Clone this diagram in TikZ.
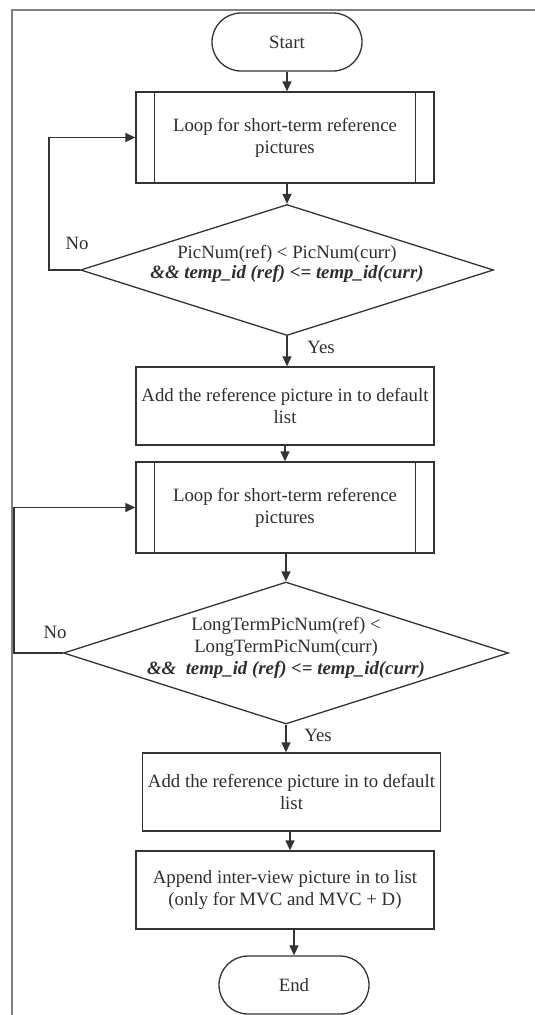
\documentclass[tikz,border=0pt]{standalone}
\usepackage{fontspec}
\setmainfont{Liberation Serif}
\usetikzlibrary{arrows.meta,shapes.geometric}
\definecolor{linec}{HTML}{333333}
\definecolor{framec}{HTML}{808080}
\definecolor{textc}{HTML}{2E2E2E}
\begin{document}
\begin{tikzpicture}[x=1pt,y=-1pt,
  font=\fontsize{18.8}{22}\selectfont, text=textc,
  line/.style={draw=linec, line width=1.3pt},
  arr/.style={line, -{Triangle[length=10pt,width=9pt]}},
  term/.style={line, rectangle, rounded corners=29pt, minimum width=150pt, minimum height=58pt, inner sep=0pt},
  proc/.style={line, rectangle, minimum width=298pt, minimum height=78pt, align=center, inner sep=0pt},
  subproc/.style={proc, minimum height=91pt},
  decision/.style={line, diamond, inner sep=0pt},
  lbl/.style={align=center, inner sep=0pt},
]
\useasboundingbox (0,0) rectangle (535,1015);

% page frame (only top and left edges are visible)
\draw[draw=framec, line width=1.8pt] (535,10) -- (12,10) -- (12,1015);

% nodes
\node[term] (start) at (287,42) {Start};
\node[subproc] (loop1) at (285,137.5) {Loop for short-term reference\\pictures};
\node[decision, minimum width=413pt, minimum height=131pt] (dec1) at (287,270) {};
\node[lbl] (dec1txt) at (287,264) {PicNum(ref) < PicNum(curr)\\[-2pt]\textbf{\textit{\&\& temp\_id (ref) <= temp\_id(curr)}}};
\node[proc] (add1) at (285,406) {Add the reference picture in to default\\list};
\node[subproc] (loop2) at (285,507.5) {Loop for short-term reference\\pictures};
\node[decision, minimum width=445pt, minimum height=142pt] (dec2) at (286,653) {};
\node[lbl] (dec2txt) at (286,648) {LongTermPicNum(ref) <\\LongTermPicNum(curr)\\\textbf{\textit{\&\&\ \ temp\_id (ref) <= temp\_id(curr)}}};
\node[proc] (add2) at (291.5,792) {Add the reference picture in to default\\list};
\node[proc] (app) at (285,890) {Append inter-view picture in to list\\(only for MVC and MVC + D)};
\node[term] (end) at (294,985) {End};

% inner bars of the predefined-process boxes
\foreach \n in {loop1,loop2}{
  \draw[line] ([xshift=19pt]\n.north west) -- ([xshift=19pt]\n.south west);
  \draw[line] ([xshift=-19pt]\n.north east) -- ([xshift=-19pt]\n.south east);
}

% main flow
\draw[arr] (start.south) -- (start.south |- loop1.north);
\draw[arr] (loop1.south -| dec1.north) -- (dec1.north);
\draw[arr] (dec1.south) -- (dec1.south |- add1.north);
\draw[arr] (add1.south) -- (add1.south |- loop2.north);
\draw[arr] (loop2.south -| dec2.north) -- (dec2.north);
\draw[arr] (dec2.south) -- (dec2.south |- add2.north);
\draw[arr] (add2.south -| 290,0) -- (app.north -| 290,0);
\draw[arr] (app.south -| end.north) -- (end.north);

% loop-back branches
\coordinate (back1) at (49,270);
\coordinate (back2) at (14,653);
\draw[arr] (dec1.west) -- (back1) |- (loop1.west);
\draw[arr] (dec2.west) -- (back2) |- (loop2.west);

% branch labels
\node[lbl] (no1) at (77,243) {No};
\node[lbl] (yes1) at (321,347) {Yes};
\node[lbl] (no2) at (55,632) {No};
\node[lbl] (yes2) at (318,735) {Yes};
\end{tikzpicture}
\end{document}
